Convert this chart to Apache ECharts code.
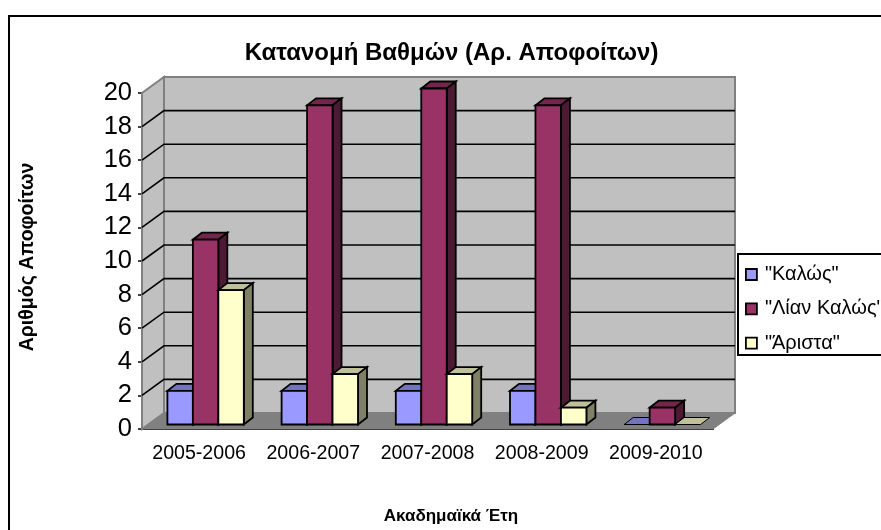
<!DOCTYPE html>
<html><head><meta charset="utf-8">
<style>html,body{margin:0;padding:0;background:#fff}#c{width:881px;height:530px}</style>
<script src="https://cdn.jsdelivr.net/npm/echarts@6/dist/echarts.min.js"></script>
</head><body><div id="c"></div>
<script>
const categories = ['2005-2006','2006-2007','2007-2008','2008-2009','2009-2010'];
const kalos = [2,2,2,2,0];
const lian = [11,19,20,19,1];
const arista = [8,3,3,1,0];
const seriesNames = ['"Καλώς"','"Λίαν Καλώς"','"Άριστα"'];
const seriesColors = ['#9999ff','#993366','#ffffcc'];
const yTicks = [2,4,6,8,10,12,14,16,18];
const FONT = '"Liberation Sans", Arial, sans-serif';
const WALL = [22,-16], BAR = [9,-7], SHIFT = [6.5,-4.5], BAR_FRAC = 0.223;

function shade(hex,f){
  const n=parseInt(hex.slice(1),16);
  return 'rgb('+[(n>>16)&255,(n>>8)&255,n&255].map(c=>Math.round(c*f)).join(',')+')';
}
function poly(points,fill,stroke,lw){
  return {type:'polygon',shape:{points},style:{fill,stroke,lineWidth:lw,lineJoin:'miter'}};
}
function wallSeries(){
  return {type:'custom',silent:true,z:1,coordinateSystem:'cartesian2d',
    data:[[0,0]],clip:false,
    renderItem(p,api){
      const a=api.coord([0,0]), s=api.size([1,1]);
      const band=s[0], x0=a[0]-band/2, x1=x0+band*categories.length;
      const y0=a[1], y1=api.coord([0,20])[1], dx=WALL[0], dy=WALL[1];
      return {type:'group',children:[
        poly([[x0,y0],[x0+dx,y0+dy],[x0+dx,y1+dy],[x0,y1]],'#c0c0c0','#808080',2),
        poly([[x0+dx,y0+dy],[x1+dx,y0+dy],[x1+dx,y1+dy],[x0+dx,y1+dy]],'#c0c0c0','#808080',2),
        poly([[x0,y0],[x1,y0],[x1+dx,y0+dy],[x0+dx,y0+dy]],'#808080','#808080',1)
      ]};
    }};
}
function gridSeries(){
  return {type:'custom',silent:true,z:2,coordinateSystem:'cartesian2d',clip:false,
    data:yTicks.map(v=>[0,v]),
    renderItem(p,api){
      const a=api.coord([0,api.value(1)]), band=api.size([1,1])[0];
      const x0=a[0]-band/2, x1=x0+band*categories.length, y=a[1];
      return {type:'polyline',shape:{points:[[x0,y],[x0+WALL[0],y+WALL[1]],[x1+WALL[0],y+WALL[1]]]},
        style:{stroke:'#000',lineWidth:1.6,fill:null}};
    }};
}
function barSeries(name,values,color,idx){
  return {name,type:'custom',z:3+idx,coordinateSystem:'cartesian2d',clip:false,
    itemStyle:{color,borderColor:'#000',borderWidth:1.5},
    data:values.map((v,i)=>[i,v]),
    renderItem(p,api){
      const v=api.value(1), a=api.coord([api.value(0),v]), b=api.coord([api.value(0),0]);
      const w=api.size([1,1])[0]*BAR_FRAC;
      const xl=a[0]+SHIFT[0]+(idx-1.5)*w, xr=xl+w, yt=a[1]+SHIFT[1], yb=b[1]+SHIFT[1];
      const dx=BAR[0], dy=BAR[1];
      const lw=1.8;
      const ch=[
        poly([[xl,yt],[xr,yt],[xr+dx,yt+dy],[xl+dx,yt+dy]],shade(color,0.75),'#000',v>0?lw:1)
      ];
      if(v>0){
        ch.push(poly([[xr,yb],[xr+dx,yb+dy],[xr+dx,yt+dy],[xr,yt]],shade(color,0.5),'#000',lw));
        ch.push(poly([[xl,yb],[xr,yb],[xr,yt],[xl,yt]],color,'#000',lw));
      }
      return {type:'group',children:ch};
    }};
}
const chart=echarts.init(document.getElementById('c'),null,{renderer:'canvas'});
chart.setOption({
  animation:false,backgroundColor:'#fff',
  title:{text:'Κατανομή Βαθμών (Αρ. Αποφοίτων)',left:446.5,top:36,textAlign:'center',
    textStyle:{fontFamily:FONT,fontSize:24,fontWeight:'bold',color:'#000'}},
  grid:{left:142,top:93,width:571,height:336},
  legend:{orient:'vertical',left:738,top:254,padding:[10.5,30,2,7],itemGap:14.3,itemWidth:11,itemHeight:11,
    backgroundColor:'#fff',borderColor:'#000',borderWidth:2,
    textStyle:{fontFamily:FONT,fontSize:20,color:'#000',padding:[0,0,0,3]},
    data:seriesNames.map((n,i)=>({name:n,icon:'rect',itemStyle:{color:seriesColors[i],borderColor:'#000',borderWidth:1.8}}))},
  xAxis:{type:'category',data:categories,name:'Ακαδημαϊκά Έτη',nameLocation:'middle',nameGap:79,
    nameTextStyle:{fontFamily:FONT,fontSize:17,fontWeight:'bold',color:'#000',padding:[0,0,0,47]},
    axisLine:{lineStyle:{color:'#000',width:2}},axisTick:{length:4,lineStyle:{color:'#000',width:1.5}},
    axisLabel:{fontFamily:FONT,fontSize:19.6,color:'#000',margin:15,interval:0},splitLine:{show:false}},
  yAxis:{type:'value',min:0,max:20,interval:2,name:'Αριθμός Αποφοίτων',nameLocation:'middle',nameGap:104,
    nameTextStyle:{fontFamily:FONT,fontSize:19.5,fontWeight:'bold',color:'#000',padding:[0,0,0,8]},
    axisLine:{show:true,lineStyle:{color:'#000',width:2}},axisTick:{show:true,length:4,lineStyle:{color:'#000',width:1.5}},
    axisLabel:{fontFamily:FONT,fontSize:25.5,color:'#000',margin:10},splitLine:{show:false}},
  graphic:[{type:'rect',z:-1,silent:true,shape:{x:9,y:16,width:900,height:560},style:{fill:'#fff',stroke:'#000',lineWidth:2}}],
  series:[wallSeries(),gridSeries(),
    barSeries(seriesNames[0],kalos,seriesColors[0],0),
    barSeries(seriesNames[1],lian,seriesColors[1],1),
    barSeries(seriesNames[2],arista,seriesColors[2],2)]
});
</script></body></html>
